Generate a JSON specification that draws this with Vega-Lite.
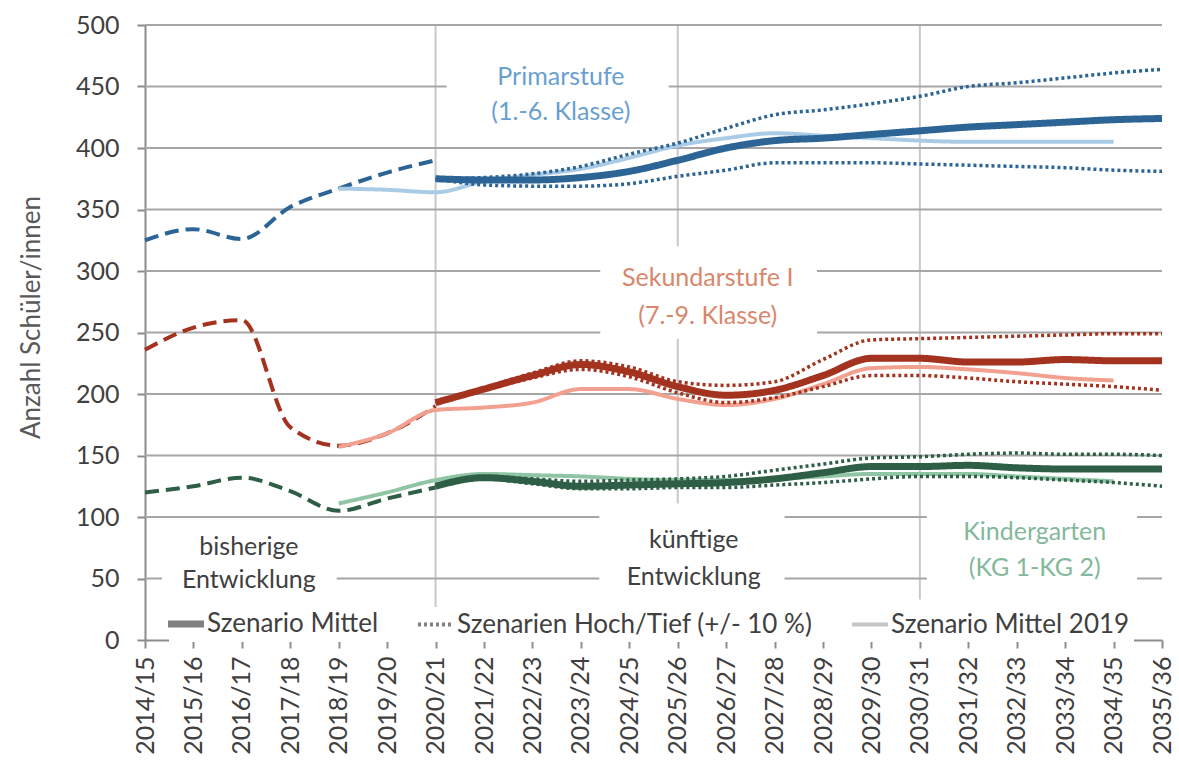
{
  "$schema": "https://vega.github.io/schema/vega-lite/v6.json",
  "width": 1017,
  "height": 615,
  "autosize": {"type": "none"},
  "padding": {"left": 145, "top": 25, "right": 17, "bottom": 128},
  "background": "white",
  "config": {
    "font": "Lato",
    "view": {"stroke": null},
    "axis": {"grid": false, "labelFont": "Lato", "labelFontSize": 25, "labelColor": "#404040", "domainColor": "#8c8c8c", "domainWidth": 2, "tickColor": "#8c8c8c", "tickWidth": 2, "tickSize": 8, "titleFont": "Lato"},
    "axisY": {"labelPadding": 18},
    "axisX": {"labelAngle": -90, "labelPadding": 8, "labelFontSize": 25},
    "rule": {"color": "#a6a6a6", "strokeWidth": 2}
  },
  "layer": [
    {"data": {"values": [{}]}, "mark": {"type": "rule", "color": "#c8c8c8"}, "encoding": {"x": {"datum": "2020/21", "type": "ordinal"}, "y": {"datum": 20, "type": "quantitative"}, "y2": {"datum": 500}}},
    {"data": {"values": [{}]}, "mark": {"type": "rule", "color": "#c8c8c8"}, "encoding": {"x": {"datum": "2025/26", "type": "ordinal"}, "y": {"datum": 320, "type": "quantitative"}, "y2": {"datum": 500}}},
    {"data": {"values": [{}]}, "mark": {"type": "rule", "color": "#c8c8c8"}, "encoding": {"x": {"datum": "2025/26", "type": "ordinal"}, "y": {"datum": 111, "type": "quantitative"}, "y2": {"datum": 245}}},
    {"data": {"values": [{}]}, "mark": {"type": "rule", "color": "#c8c8c8"}, "encoding": {"x": {"datum": "2030/31", "type": "ordinal"}, "y": {"datum": 33, "type": "quantitative"}, "y2": {"datum": 500}}},
    {"data": {"values": [{}]}, "mark": {"type": "rule"}, "encoding": {"y": {"datum": 500, "type": "quantitative"}}},
    {"data": {"values": [{}]}, "mark": {"type": "rule"}, "encoding": {"y": {"datum": 400, "type": "quantitative"}}},
    {"data": {"values": [{}]}, "mark": {"type": "rule"}, "encoding": {"y": {"datum": 350, "type": "quantitative"}}},
    {"data": {"values": [{}]}, "mark": {"type": "rule"}, "encoding": {"y": {"datum": 200, "type": "quantitative"}}},
    {"data": {"values": [{}]}, "mark": {"type": "rule"}, "encoding": {"y": {"datum": 150, "type": "quantitative"}}},
    {"data": {"values": [{}]}, "mark": {"type": "rule", "x2Offset": 11}, "encoding": {"x": {"datum": "2014/15", "type": "ordinal"}, "x2": {"datum": "2020/21"}, "y": {"datum": 450, "type": "quantitative"}}},
    {"data": {"values": [{}]}, "mark": {"type": "rule", "xOffset": -9}, "encoding": {"x": {"datum": "2025/26", "type": "ordinal"}, "x2": {"datum": "2035/36"}, "y": {"datum": 450, "type": "quantitative"}}},
    {"data": {"values": [{}]}, "mark": {"type": "rule", "x2Offset": -29}, "encoding": {"x": {"datum": "2014/15", "type": "ordinal"}, "x2": {"datum": "2024/25"}, "y": {"datum": 300, "type": "quantitative"}}},
    {"data": {"values": [{}]}, "mark": {"type": "rule", "xOffset": -6}, "encoding": {"x": {"datum": "2028/29", "type": "ordinal"}, "x2": {"datum": "2035/36"}, "y": {"datum": 300, "type": "quantitative"}}},
    {"data": {"values": [{}]}, "mark": {"type": "rule", "x2Offset": -29}, "encoding": {"x": {"datum": "2014/15", "type": "ordinal"}, "x2": {"datum": "2024/25"}, "y": {"datum": 250, "type": "quantitative"}}},
    {"data": {"values": [{}]}, "mark": {"type": "rule", "xOffset": -6}, "encoding": {"x": {"datum": "2028/29", "type": "ordinal"}, "x2": {"datum": "2035/36"}, "y": {"datum": 250, "type": "quantitative"}}},
    {"data": {"values": [{}]}, "mark": {"type": "rule", "x2Offset": -30}, "encoding": {"x": {"datum": "2014/15", "type": "ordinal"}, "x2": {"datum": "2024/25"}, "y": {"datum": 100, "type": "quantitative"}}},
    {"data": {"values": [{}]}, "mark": {"type": "rule", "xOffset": 10, "x2Offset": 7}, "encoding": {"x": {"datum": "2027/28", "type": "ordinal"}, "x2": {"datum": "2030/31"}, "y": {"datum": 100, "type": "quantitative"}}},
    {"data": {"values": [{}]}, "mark": {"type": "rule", "xOffset": -25}, "encoding": {"x": {"datum": "2035/36", "type": "ordinal"}, "x2": {"datum": "2035/36"}, "y": {"datum": 100, "type": "quantitative"}}},
    {"data": {"values": [{}]}, "mark": {"type": "rule", "x2Offset": 17}, "encoding": {"x": {"datum": "2014/15", "type": "ordinal"}, "x2": {"datum": "2014/15"}, "y": {"datum": 50, "type": "quantitative"}}},
    {"data": {"values": [{}]}, "mark": {"type": "rule", "xOffset": -2, "x2Offset": -30}, "encoding": {"x": {"datum": "2018/19", "type": "ordinal"}, "x2": {"datum": "2024/25"}, "y": {"datum": 50, "type": "quantitative"}}},
    {"data": {"values": [{}]}, "mark": {"type": "rule", "xOffset": 10, "x2Offset": 7}, "encoding": {"x": {"datum": "2027/28", "type": "ordinal"}, "x2": {"datum": "2030/31"}, "y": {"datum": 50, "type": "quantitative"}}},
    {"data": {"values": [{}]}, "mark": {"type": "rule", "xOffset": -25}, "encoding": {"x": {"datum": "2035/36", "type": "ordinal"}, "x2": {"datum": "2035/36"}, "y": {"datum": 50, "type": "quantitative"}}},
    {
      "data": {"values": [
        {"jahr":"2014/15","stufe":"Primarstufe","szenario":"bisher","wert":325},
        {"jahr":"2015/16","stufe":"Primarstufe","szenario":"bisher","wert":334},
        {"jahr":"2016/17","stufe":"Primarstufe","szenario":"bisher","wert":326},
        {"jahr":"2017/18","stufe":"Primarstufe","szenario":"bisher","wert":352},
        {"jahr":"2018/19","stufe":"Primarstufe","szenario":"bisher","wert":367},
        {"jahr":"2019/20","stufe":"Primarstufe","szenario":"bisher","wert":380},
        {"jahr":"2020/21","stufe":"Primarstufe","szenario":"bisher","wert":390},
        {"jahr":"2018/19","stufe":"Primarstufe","szenario":"Mittel 2019","wert":367},
        {"jahr":"2019/20","stufe":"Primarstufe","szenario":"Mittel 2019","wert":366},
        {"jahr":"2020/21","stufe":"Primarstufe","szenario":"Mittel 2019","wert":364},
        {"jahr":"2021/22","stufe":"Primarstufe","szenario":"Mittel 2019","wert":373},
        {"jahr":"2022/23","stufe":"Primarstufe","szenario":"Mittel 2019","wert":378},
        {"jahr":"2023/24","stufe":"Primarstufe","szenario":"Mittel 2019","wert":383},
        {"jahr":"2024/25","stufe":"Primarstufe","szenario":"Mittel 2019","wert":392},
        {"jahr":"2025/26","stufe":"Primarstufe","szenario":"Mittel 2019","wert":402},
        {"jahr":"2026/27","stufe":"Primarstufe","szenario":"Mittel 2019","wert":408},
        {"jahr":"2027/28","stufe":"Primarstufe","szenario":"Mittel 2019","wert":412},
        {"jahr":"2028/29","stufe":"Primarstufe","szenario":"Mittel 2019","wert":410},
        {"jahr":"2029/30","stufe":"Primarstufe","szenario":"Mittel 2019","wert":408},
        {"jahr":"2030/31","stufe":"Primarstufe","szenario":"Mittel 2019","wert":406},
        {"jahr":"2031/32","stufe":"Primarstufe","szenario":"Mittel 2019","wert":405},
        {"jahr":"2032/33","stufe":"Primarstufe","szenario":"Mittel 2019","wert":405},
        {"jahr":"2033/34","stufe":"Primarstufe","szenario":"Mittel 2019","wert":405},
        {"jahr":"2034/35","stufe":"Primarstufe","szenario":"Mittel 2019","wert":405},
        {"jahr":"2020/21","stufe":"Primarstufe","szenario":"Mittel","wert":375},
        {"jahr":"2021/22","stufe":"Primarstufe","szenario":"Mittel","wert":374},
        {"jahr":"2022/23","stufe":"Primarstufe","szenario":"Mittel","wert":374},
        {"jahr":"2023/24","stufe":"Primarstufe","szenario":"Mittel","wert":376},
        {"jahr":"2024/25","stufe":"Primarstufe","szenario":"Mittel","wert":381},
        {"jahr":"2025/26","stufe":"Primarstufe","szenario":"Mittel","wert":390},
        {"jahr":"2026/27","stufe":"Primarstufe","szenario":"Mittel","wert":400},
        {"jahr":"2027/28","stufe":"Primarstufe","szenario":"Mittel","wert":406},
        {"jahr":"2028/29","stufe":"Primarstufe","szenario":"Mittel","wert":408},
        {"jahr":"2029/30","stufe":"Primarstufe","szenario":"Mittel","wert":411},
        {"jahr":"2030/31","stufe":"Primarstufe","szenario":"Mittel","wert":414},
        {"jahr":"2031/32","stufe":"Primarstufe","szenario":"Mittel","wert":417},
        {"jahr":"2032/33","stufe":"Primarstufe","szenario":"Mittel","wert":419},
        {"jahr":"2033/34","stufe":"Primarstufe","szenario":"Mittel","wert":421},
        {"jahr":"2034/35","stufe":"Primarstufe","szenario":"Mittel","wert":423},
        {"jahr":"2035/36","stufe":"Primarstufe","szenario":"Mittel","wert":424},
        {"jahr":"2020/21","stufe":"Primarstufe","szenario":"Hoch","wert":375},
        {"jahr":"2021/22","stufe":"Primarstufe","szenario":"Hoch","wert":376},
        {"jahr":"2022/23","stufe":"Primarstufe","szenario":"Hoch","wert":379},
        {"jahr":"2023/24","stufe":"Primarstufe","szenario":"Hoch","wert":385},
        {"jahr":"2024/25","stufe":"Primarstufe","szenario":"Hoch","wert":395},
        {"jahr":"2025/26","stufe":"Primarstufe","szenario":"Hoch","wert":404},
        {"jahr":"2026/27","stufe":"Primarstufe","szenario":"Hoch","wert":416},
        {"jahr":"2027/28","stufe":"Primarstufe","szenario":"Hoch","wert":427},
        {"jahr":"2028/29","stufe":"Primarstufe","szenario":"Hoch","wert":431},
        {"jahr":"2029/30","stufe":"Primarstufe","szenario":"Hoch","wert":436},
        {"jahr":"2030/31","stufe":"Primarstufe","szenario":"Hoch","wert":442},
        {"jahr":"2031/32","stufe":"Primarstufe","szenario":"Hoch","wert":450},
        {"jahr":"2032/33","stufe":"Primarstufe","szenario":"Hoch","wert":453},
        {"jahr":"2033/34","stufe":"Primarstufe","szenario":"Hoch","wert":457},
        {"jahr":"2034/35","stufe":"Primarstufe","szenario":"Hoch","wert":461},
        {"jahr":"2035/36","stufe":"Primarstufe","szenario":"Hoch","wert":464},
        {"jahr":"2020/21","stufe":"Primarstufe","szenario":"Tief","wert":375},
        {"jahr":"2021/22","stufe":"Primarstufe","szenario":"Tief","wert":370},
        {"jahr":"2022/23","stufe":"Primarstufe","szenario":"Tief","wert":369},
        {"jahr":"2023/24","stufe":"Primarstufe","szenario":"Tief","wert":369},
        {"jahr":"2024/25","stufe":"Primarstufe","szenario":"Tief","wert":371},
        {"jahr":"2025/26","stufe":"Primarstufe","szenario":"Tief","wert":377},
        {"jahr":"2026/27","stufe":"Primarstufe","szenario":"Tief","wert":382},
        {"jahr":"2027/28","stufe":"Primarstufe","szenario":"Tief","wert":388},
        {"jahr":"2028/29","stufe":"Primarstufe","szenario":"Tief","wert":388},
        {"jahr":"2029/30","stufe":"Primarstufe","szenario":"Tief","wert":388},
        {"jahr":"2030/31","stufe":"Primarstufe","szenario":"Tief","wert":387},
        {"jahr":"2031/32","stufe":"Primarstufe","szenario":"Tief","wert":386},
        {"jahr":"2032/33","stufe":"Primarstufe","szenario":"Tief","wert":385},
        {"jahr":"2033/34","stufe":"Primarstufe","szenario":"Tief","wert":384},
        {"jahr":"2034/35","stufe":"Primarstufe","szenario":"Tief","wert":382},
        {"jahr":"2035/36","stufe":"Primarstufe","szenario":"Tief","wert":381},
        {"jahr":"2014/15","stufe":"Sekundarstufe I","szenario":"bisher","wert":236},
        {"jahr":"2015/16","stufe":"Sekundarstufe I","szenario":"bisher","wert":254},
        {"jahr":"2016/17","stufe":"Sekundarstufe I","szenario":"bisher","wert":260},
        {"jahr":"2017/18","stufe":"Sekundarstufe I","szenario":"bisher","wert":173},
        {"jahr":"2018/19","stufe":"Sekundarstufe I","szenario":"bisher","wert":158},
        {"jahr":"2019/20","stufe":"Sekundarstufe I","szenario":"bisher","wert":168},
        {"jahr":"2020/21","stufe":"Sekundarstufe I","szenario":"bisher","wert":190},
        {"jahr":"2018/19","stufe":"Sekundarstufe I","szenario":"Mittel 2019","wert":157},
        {"jahr":"2019/20","stufe":"Sekundarstufe I","szenario":"Mittel 2019","wert":168},
        {"jahr":"2020/21","stufe":"Sekundarstufe I","szenario":"Mittel 2019","wert":187},
        {"jahr":"2021/22","stufe":"Sekundarstufe I","szenario":"Mittel 2019","wert":189},
        {"jahr":"2022/23","stufe":"Sekundarstufe I","szenario":"Mittel 2019","wert":193},
        {"jahr":"2023/24","stufe":"Sekundarstufe I","szenario":"Mittel 2019","wert":204},
        {"jahr":"2024/25","stufe":"Sekundarstufe I","szenario":"Mittel 2019","wert":204},
        {"jahr":"2025/26","stufe":"Sekundarstufe I","szenario":"Mittel 2019","wert":196},
        {"jahr":"2026/27","stufe":"Sekundarstufe I","szenario":"Mittel 2019","wert":191},
        {"jahr":"2027/28","stufe":"Sekundarstufe I","szenario":"Mittel 2019","wert":196},
        {"jahr":"2028/29","stufe":"Sekundarstufe I","szenario":"Mittel 2019","wert":208},
        {"jahr":"2029/30","stufe":"Sekundarstufe I","szenario":"Mittel 2019","wert":221},
        {"jahr":"2030/31","stufe":"Sekundarstufe I","szenario":"Mittel 2019","wert":222},
        {"jahr":"2031/32","stufe":"Sekundarstufe I","szenario":"Mittel 2019","wert":220},
        {"jahr":"2032/33","stufe":"Sekundarstufe I","szenario":"Mittel 2019","wert":217},
        {"jahr":"2033/34","stufe":"Sekundarstufe I","szenario":"Mittel 2019","wert":213},
        {"jahr":"2034/35","stufe":"Sekundarstufe I","szenario":"Mittel 2019","wert":211},
        {"jahr":"2020/21","stufe":"Sekundarstufe I","szenario":"Mittel","wert":193},
        {"jahr":"2021/22","stufe":"Sekundarstufe I","szenario":"Mittel","wert":204},
        {"jahr":"2022/23","stufe":"Sekundarstufe I","szenario":"Mittel","wert":215},
        {"jahr":"2023/24","stufe":"Sekundarstufe I","szenario":"Mittel","wert":224},
        {"jahr":"2024/25","stufe":"Sekundarstufe I","szenario":"Mittel","wert":218},
        {"jahr":"2025/26","stufe":"Sekundarstufe I","szenario":"Mittel","wert":206},
        {"jahr":"2026/27","stufe":"Sekundarstufe I","szenario":"Mittel","wert":199},
        {"jahr":"2027/28","stufe":"Sekundarstufe I","szenario":"Mittel","wert":203},
        {"jahr":"2028/29","stufe":"Sekundarstufe I","szenario":"Mittel","wert":215},
        {"jahr":"2029/30","stufe":"Sekundarstufe I","szenario":"Mittel","wert":229},
        {"jahr":"2030/31","stufe":"Sekundarstufe I","szenario":"Mittel","wert":229},
        {"jahr":"2031/32","stufe":"Sekundarstufe I","szenario":"Mittel","wert":226},
        {"jahr":"2032/33","stufe":"Sekundarstufe I","szenario":"Mittel","wert":226},
        {"jahr":"2033/34","stufe":"Sekundarstufe I","szenario":"Mittel","wert":228},
        {"jahr":"2034/35","stufe":"Sekundarstufe I","szenario":"Mittel","wert":227},
        {"jahr":"2035/36","stufe":"Sekundarstufe I","szenario":"Mittel","wert":227},
        {"jahr":"2020/21","stufe":"Sekundarstufe I","szenario":"Hoch","wert":193},
        {"jahr":"2021/22","stufe":"Sekundarstufe I","szenario":"Hoch","wert":205},
        {"jahr":"2022/23","stufe":"Sekundarstufe I","szenario":"Hoch","wert":217},
        {"jahr":"2023/24","stufe":"Sekundarstufe I","szenario":"Hoch","wert":227},
        {"jahr":"2024/25","stufe":"Sekundarstufe I","szenario":"Hoch","wert":222},
        {"jahr":"2025/26","stufe":"Sekundarstufe I","szenario":"Hoch","wert":210},
        {"jahr":"2026/27","stufe":"Sekundarstufe I","szenario":"Hoch","wert":207},
        {"jahr":"2027/28","stufe":"Sekundarstufe I","szenario":"Hoch","wert":210},
        {"jahr":"2028/29","stufe":"Sekundarstufe I","szenario":"Hoch","wert":228},
        {"jahr":"2029/30","stufe":"Sekundarstufe I","szenario":"Hoch","wert":244},
        {"jahr":"2030/31","stufe":"Sekundarstufe I","szenario":"Hoch","wert":245},
        {"jahr":"2031/32","stufe":"Sekundarstufe I","szenario":"Hoch","wert":246},
        {"jahr":"2032/33","stufe":"Sekundarstufe I","szenario":"Hoch","wert":247},
        {"jahr":"2033/34","stufe":"Sekundarstufe I","szenario":"Hoch","wert":248},
        {"jahr":"2034/35","stufe":"Sekundarstufe I","szenario":"Hoch","wert":249},
        {"jahr":"2035/36","stufe":"Sekundarstufe I","szenario":"Hoch","wert":249},
        {"jahr":"2020/21","stufe":"Sekundarstufe I","szenario":"Tief","wert":193},
        {"jahr":"2021/22","stufe":"Sekundarstufe I","szenario":"Tief","wert":203},
        {"jahr":"2022/23","stufe":"Sekundarstufe I","szenario":"Tief","wert":213},
        {"jahr":"2023/24","stufe":"Sekundarstufe I","szenario":"Tief","wert":220},
        {"jahr":"2024/25","stufe":"Sekundarstufe I","szenario":"Tief","wert":214},
        {"jahr":"2025/26","stufe":"Sekundarstufe I","szenario":"Tief","wert":201},
        {"jahr":"2026/27","stufe":"Sekundarstufe I","szenario":"Tief","wert":193},
        {"jahr":"2027/28","stufe":"Sekundarstufe I","szenario":"Tief","wert":197},
        {"jahr":"2028/29","stufe":"Sekundarstufe I","szenario":"Tief","wert":206},
        {"jahr":"2029/30","stufe":"Sekundarstufe I","szenario":"Tief","wert":215},
        {"jahr":"2030/31","stufe":"Sekundarstufe I","szenario":"Tief","wert":215},
        {"jahr":"2031/32","stufe":"Sekundarstufe I","szenario":"Tief","wert":213},
        {"jahr":"2032/33","stufe":"Sekundarstufe I","szenario":"Tief","wert":210},
        {"jahr":"2033/34","stufe":"Sekundarstufe I","szenario":"Tief","wert":208},
        {"jahr":"2034/35","stufe":"Sekundarstufe I","szenario":"Tief","wert":206},
        {"jahr":"2035/36","stufe":"Sekundarstufe I","szenario":"Tief","wert":203},
        {"jahr":"2014/15","stufe":"Kindergarten","szenario":"bisher","wert":120},
        {"jahr":"2015/16","stufe":"Kindergarten","szenario":"bisher","wert":125},
        {"jahr":"2016/17","stufe":"Kindergarten","szenario":"bisher","wert":132},
        {"jahr":"2017/18","stufe":"Kindergarten","szenario":"bisher","wert":121},
        {"jahr":"2018/19","stufe":"Kindergarten","szenario":"bisher","wert":105},
        {"jahr":"2019/20","stufe":"Kindergarten","szenario":"bisher","wert":115},
        {"jahr":"2020/21","stufe":"Kindergarten","szenario":"bisher","wert":124},
        {"jahr":"2018/19","stufe":"Kindergarten","szenario":"Mittel 2019","wert":111},
        {"jahr":"2019/20","stufe":"Kindergarten","szenario":"Mittel 2019","wert":120},
        {"jahr":"2020/21","stufe":"Kindergarten","szenario":"Mittel 2019","wert":130},
        {"jahr":"2021/22","stufe":"Kindergarten","szenario":"Mittel 2019","wert":135},
        {"jahr":"2022/23","stufe":"Kindergarten","szenario":"Mittel 2019","wert":134},
        {"jahr":"2023/24","stufe":"Kindergarten","szenario":"Mittel 2019","wert":133},
        {"jahr":"2024/25","stufe":"Kindergarten","szenario":"Mittel 2019","wert":131},
        {"jahr":"2025/26","stufe":"Kindergarten","szenario":"Mittel 2019","wert":130},
        {"jahr":"2026/27","stufe":"Kindergarten","szenario":"Mittel 2019","wert":130},
        {"jahr":"2027/28","stufe":"Kindergarten","szenario":"Mittel 2019","wert":131},
        {"jahr":"2028/29","stufe":"Kindergarten","szenario":"Mittel 2019","wert":133},
        {"jahr":"2029/30","stufe":"Kindergarten","szenario":"Mittel 2019","wert":135},
        {"jahr":"2030/31","stufe":"Kindergarten","szenario":"Mittel 2019","wert":135},
        {"jahr":"2031/32","stufe":"Kindergarten","szenario":"Mittel 2019","wert":135},
        {"jahr":"2032/33","stufe":"Kindergarten","szenario":"Mittel 2019","wert":133},
        {"jahr":"2033/34","stufe":"Kindergarten","szenario":"Mittel 2019","wert":131},
        {"jahr":"2034/35","stufe":"Kindergarten","szenario":"Mittel 2019","wert":129},
        {"jahr":"2020/21","stufe":"Kindergarten","szenario":"Mittel","wert":125},
        {"jahr":"2021/22","stufe":"Kindergarten","szenario":"Mittel","wert":132},
        {"jahr":"2022/23","stufe":"Kindergarten","szenario":"Mittel","wert":129},
        {"jahr":"2023/24","stufe":"Kindergarten","szenario":"Mittel","wert":125},
        {"jahr":"2024/25","stufe":"Kindergarten","szenario":"Mittel","wert":126},
        {"jahr":"2025/26","stufe":"Kindergarten","szenario":"Mittel","wert":127},
        {"jahr":"2026/27","stufe":"Kindergarten","szenario":"Mittel","wert":128},
        {"jahr":"2027/28","stufe":"Kindergarten","szenario":"Mittel","wert":131},
        {"jahr":"2028/29","stufe":"Kindergarten","szenario":"Mittel","wert":136},
        {"jahr":"2029/30","stufe":"Kindergarten","szenario":"Mittel","wert":141},
        {"jahr":"2030/31","stufe":"Kindergarten","szenario":"Mittel","wert":141},
        {"jahr":"2031/32","stufe":"Kindergarten","szenario":"Mittel","wert":142},
        {"jahr":"2032/33","stufe":"Kindergarten","szenario":"Mittel","wert":140},
        {"jahr":"2033/34","stufe":"Kindergarten","szenario":"Mittel","wert":139},
        {"jahr":"2034/35","stufe":"Kindergarten","szenario":"Mittel","wert":139},
        {"jahr":"2035/36","stufe":"Kindergarten","szenario":"Mittel","wert":139},
        {"jahr":"2020/21","stufe":"Kindergarten","szenario":"Hoch","wert":125},
        {"jahr":"2021/22","stufe":"Kindergarten","szenario":"Hoch","wert":133},
        {"jahr":"2022/23","stufe":"Kindergarten","szenario":"Hoch","wert":131},
        {"jahr":"2023/24","stufe":"Kindergarten","szenario":"Hoch","wert":129},
        {"jahr":"2024/25","stufe":"Kindergarten","szenario":"Hoch","wert":130},
        {"jahr":"2025/26","stufe":"Kindergarten","szenario":"Hoch","wert":131},
        {"jahr":"2026/27","stufe":"Kindergarten","szenario":"Hoch","wert":133},
        {"jahr":"2027/28","stufe":"Kindergarten","szenario":"Hoch","wert":138},
        {"jahr":"2028/29","stufe":"Kindergarten","szenario":"Hoch","wert":143},
        {"jahr":"2029/30","stufe":"Kindergarten","szenario":"Hoch","wert":148},
        {"jahr":"2030/31","stufe":"Kindergarten","szenario":"Hoch","wert":149},
        {"jahr":"2031/32","stufe":"Kindergarten","szenario":"Hoch","wert":151},
        {"jahr":"2032/33","stufe":"Kindergarten","szenario":"Hoch","wert":152},
        {"jahr":"2033/34","stufe":"Kindergarten","szenario":"Hoch","wert":151},
        {"jahr":"2034/35","stufe":"Kindergarten","szenario":"Hoch","wert":151},
        {"jahr":"2035/36","stufe":"Kindergarten","szenario":"Hoch","wert":150},
        {"jahr":"2020/21","stufe":"Kindergarten","szenario":"Tief","wert":125},
        {"jahr":"2021/22","stufe":"Kindergarten","szenario":"Tief","wert":131},
        {"jahr":"2022/23","stufe":"Kindergarten","szenario":"Tief","wert":127},
        {"jahr":"2023/24","stufe":"Kindergarten","szenario":"Tief","wert":123},
        {"jahr":"2024/25","stufe":"Kindergarten","szenario":"Tief","wert":123},
        {"jahr":"2025/26","stufe":"Kindergarten","szenario":"Tief","wert":124},
        {"jahr":"2026/27","stufe":"Kindergarten","szenario":"Tief","wert":124},
        {"jahr":"2027/28","stufe":"Kindergarten","szenario":"Tief","wert":126},
        {"jahr":"2028/29","stufe":"Kindergarten","szenario":"Tief","wert":128},
        {"jahr":"2029/30","stufe":"Kindergarten","szenario":"Tief","wert":131},
        {"jahr":"2030/31","stufe":"Kindergarten","szenario":"Tief","wert":133},
        {"jahr":"2031/32","stufe":"Kindergarten","szenario":"Tief","wert":133},
        {"jahr":"2032/33","stufe":"Kindergarten","szenario":"Tief","wert":132},
        {"jahr":"2033/34","stufe":"Kindergarten","szenario":"Tief","wert":130},
        {"jahr":"2034/35","stufe":"Kindergarten","szenario":"Tief","wert":128},
        {"jahr":"2035/36","stufe":"Kindergarten","szenario":"Tief","wert":125}
      ]},
      "transform": [
        {"calculate": "datum.szenario === 'Mittel' ? 'Szenario Mittel' : (datum.szenario === 'Hoch' || datum.szenario === 'Tief') ? 'Szenarien Hoch/Tief (+/- 10 %)' : datum.szenario === 'Mittel 2019' ? 'Szenario Mittel 2019' : 'bisherige Entwicklung'", "as": "reihe"},
        {"calculate": "datum.stufe + (datum.szenario === 'Mittel 2019' ? ' 2019' : '')", "as": "farbe"}
      ],
      "encoding": {
        "x": {"field": "jahr", "type": "ordinal", "scale": {"type": "point", "padding": 0}, "axis": {"title": null}},
        "y": {"field": "wert", "type": "quantitative", "scale": {"domain": [0, 500], "nice": false}, "axis": {"title": "Anzahl Schüler/innen", "values": [0, 50, 100, 150, 200, 250, 300, 350, 400, 450, 500], "titleFontSize": 26, "titleColor": "#595959", "titleFontWeight": "normal", "titleAngle": -90, "titleX": -114, "titleY": 292, "titleAlign": "center", "titleBaseline": "middle"}},
        "color": {"field": "farbe", "type": "nominal", "legend": null, "scale": {"domain": ["Primarstufe", "Primarstufe 2019", "Sekundarstufe I", "Sekundarstufe I 2019", "Kindergarten", "Kindergarten 2019"], "range": ["#2c6595", "#a9cbe6", "#a3321f", "#f2a190", "#2e5e45", "#8fc5a5"]}},
        "strokeDash": {"field": "reihe", "type": "nominal", "scale": {"domain": ["Szenario Mittel", "Szenarien Hoch/Tief (+/- 10 %)", "Szenario Mittel 2019", "bisherige Entwicklung"], "range": [[1, 0], [3, 3], [1, 0], [14, 7]]},
          "legend": {"values": ["Szenario Mittel", "Szenarien Hoch/Tief (+/- 10 %)", "Szenario Mittel 2019"], "title": null, "orient": "none", "legendX": 24, "legendY": 582, "direction": "horizontal", "symbolType": "stroke", "symbolSize": 1300, "symbolStrokeWidth": 4, "symbolStrokeColor": "#808080", "labelFont": "Lato", "labelFontSize": 26, "labelColor": "#404040", "labelLimit": 600, "labelOffset": 8, "columnPadding": 30, "fillColor": "white", "padding": 4,
            "encode": {"symbols": {"update": {"stroke": {"signal": "datum.value === 'Szenario Mittel 2019' ? '#c6c6c6' : '#808080'"}, "strokeWidth": {"signal": "datum.value === 'Szenario Mittel' ? 7 : 4"}}}}}},
        "detail": {"field": "szenario", "type": "nominal"}
      },
      "layer": [
        {"transform": [{"filter": "datum.szenario === 'bisher'"}], "mark": {"type": "line", "strokeWidth": 4, "interpolate": "monotone"}},
        {"transform": [{"filter": "datum.szenario === 'Mittel 2019'"}], "mark": {"type": "line", "strokeWidth": 4, "interpolate": "monotone"}},
        {"transform": [{"filter": "datum.szenario === 'Hoch' || datum.szenario === 'Tief'"}], "mark": {"type": "line", "strokeWidth": 3.5, "interpolate": "monotone"}},
        {"transform": [{"filter": "datum.szenario === 'Mittel'"}], "mark": {"type": "line", "strokeWidth": 7, "interpolate": "monotone"}}
      ]
    },
    {"data": {"values": [{}]}, "mark": {"type": "text", "text": ["Primarstufe", "(1.-6. Klasse)"], "lineHeight": 35, "fontSize": 25, "font": "Lato", "color": "#6a9fd1", "align": "center", "baseline": "middle", "dx": -20}, "encoding": {"x": {"datum": "2023/24", "type": "ordinal"}, "y": {"datum": 458, "type": "quantitative"}}},
    {"data": {"values": [{}]}, "mark": {"type": "text", "text": ["Sekundarstufe I", "(7.-9. Klasse)"], "lineHeight": 38, "fontSize": 25, "font": "Lato", "color": "#d8876b", "align": "center", "baseline": "middle", "dx": 30}, "encoding": {"x": {"datum": "2025/26", "type": "ordinal"}, "y": {"datum": 294, "type": "quantitative"}}},
    {"data": {"values": [{}]}, "mark": {"type": "text", "text": ["Kindergarten", "(KG 1-KG 2)"], "lineHeight": 36, "fontSize": 25, "font": "Lato", "color": "#84b89b", "align": "center", "baseline": "middle", "dx": 18}, "encoding": {"x": {"datum": "2032/33", "type": "ordinal"}, "y": {"datum": 88, "type": "quantitative"}}},
    {"data": {"values": [{}]}, "mark": {"type": "text", "text": ["bisherige", "Entwicklung"], "lineHeight": 33, "fontSize": 25, "font": "Lato", "color": "#404040", "align": "center", "baseline": "middle", "dx": 7}, "encoding": {"x": {"datum": "2016/17", "type": "ordinal"}, "y": {"datum": 76, "type": "quantitative"}}},
    {"data": {"values": [{}]}, "mark": {"type": "text", "text": ["künftige", "Entwicklung"], "lineHeight": 37, "fontSize": 25, "font": "Lato", "color": "#404040", "align": "center", "baseline": "middle", "dx": 16}, "encoding": {"x": {"datum": "2025/26", "type": "ordinal"}, "y": {"datum": 81, "type": "quantitative"}}}
  ]
}
